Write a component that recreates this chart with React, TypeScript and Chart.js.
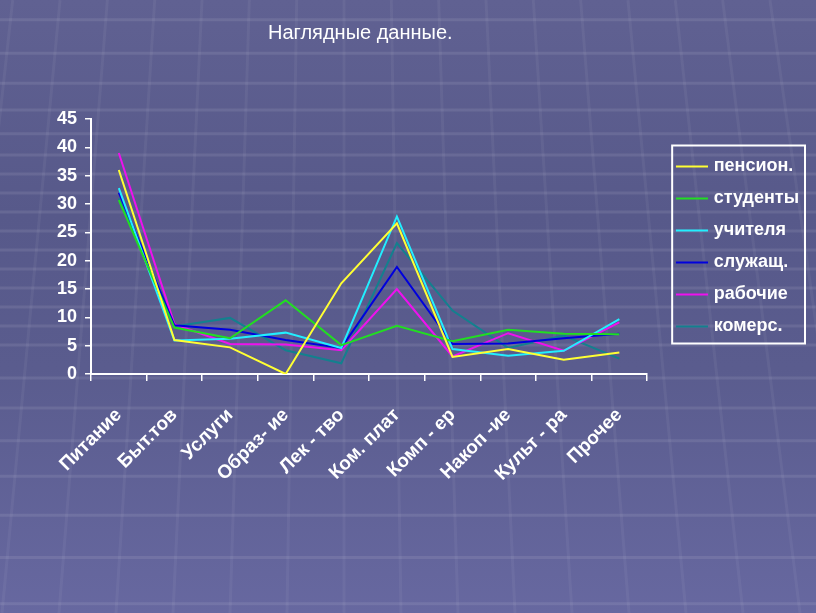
import React, { useEffect, useRef } from 'react';
import { Chart, registerables } from 'chart.js';

Chart.register(...registerables);

const categories = ['Питание', 'Быт.тов', 'Услуги', 'Образ- ие', 'Лек - тво', 'Ком. плат', 'Комп - ер', 'Накоп -ие', 'Культ - ра', 'Прочее'];

const pension = [36, 6, 4.7, 0, 16, 26.6, 3, 4.4, 2.5, 3.8];
const students = [30.7, 8.2, 6.3, 13, 5.1, 8.5, 5.8, 7.8, 7.1, 7];
const teachers = [32.8, 5.9, 6.2, 7.3, 4.6, 27.8, 4.4, 3.2, 4.1, 9.7];
const servants = [32, 8.6, 7.8, 6, 4.6, 18.9, 5.3, 5.4, 6.3, 7.1];
const workers = [39, 8.8, 5.3, 5.2, 4.2, 15, 3.1, 7.2, 4.1, 9.1];
const commerce = [31, 8.4, 9.9, 4.2, 1.9, 23.1, 11.2, 4.6, 6.8, 2.7];

const seriesNames = ['пенсион.', 'студенты', 'учителя', 'служащ.', 'рабочие', 'комерс.'];
const seriesValues = [pension, students, teachers, servants, workers, commerce];
const seriesColors = ['#ffff33', '#22dd22', '#22eeff', '#0000dd', '#ee11ee', '#13808e'];

const yMin = 0;
const yMax = 45;
const yStep = 5;

const FONT = '"Liberation Sans", Arial, sans-serif';

function makeLegendLine(color: string) {
  const c = document.createElement('canvas');
  c.width = 50;
  c.height = 4;
  const ctx = c.getContext('2d')!;
  ctx.strokeStyle = color;
  ctx.lineWidth = 2;
  ctx.beginPath();
  ctx.moveTo(18, 2);
  ctx.lineTo(50, 2);
  ctx.stroke();
  return c;
}

const backgroundPlugin = {
  id: 'slideBackground',
  beforeDraw(chart: any) {
    const { ctx, width, height } = chart;
    ctx.save();
    const ys: number[] = [];
    let y = 345;
    while (y > 160) { ys.push(y); y -= 19; }
    let s = 19;
    while (y > 0) { ys.push(y); s *= 1.12; y -= s; }
    y = 378; s = 30;
    while (y < height) { ys.push(y); y += s; s *= 1.09; }
    ctx.strokeStyle = 'rgba(255,255,255,0.09)';
    ctx.lineWidth = 3;
    ys.forEach((yy) => {
      ctx.beginPath();
      ctx.moveTo(0, yy);
      ctx.lineTo(width, yy);
      ctx.stroke();
    });
    ctx.strokeStyle = 'rgba(255,255,255,0.05)';
    ctx.lineWidth = 3;
    const vx = 344, vy = -3000;
    for (let k = -8; k <= 10; k++) {
      const xb = vx + k * 57;
      const xt = vx + k * 57 * (0 - vy) / (height - vy);
      ctx.beginPath();
      ctx.moveTo(xt, 0);
      ctx.lineTo(xb, height);
      ctx.stroke();
    }
    ctx.restore();
  },
};

const legendBorderPlugin = {
  id: 'legendBorder',
  afterDraw(chart: any) {
    const lg = chart.legend;
    if (!lg || !lg.legendHitBoxes || !lg.legendHitBoxes.length) return;
    const hb = lg.legendHitBoxes;
    const left = hb[0].left + 11;
    const top = hb[0].top - 12;
    const right = Math.max(...hb.map((h: any) => h.left + h.width)) + 6;
    const last = hb[hb.length - 1];
    const bottom = last.top + last.height + 8;
    const ctx = chart.ctx;
    ctx.save();
    ctx.strokeStyle = '#ffffff';
    ctx.lineWidth = 2;
    ctx.strokeRect(left, top, right - left, bottom - top);
    ctx.restore();
  },
};

export default function App() {
  const canvasRef = useRef<HTMLCanvasElement | null>(null);

  useEffect(() => {
    if (!canvasRef.current) return;
    const legendImgs = seriesColors.map(makeLegendLine);
    const chart = new Chart(canvasRef.current, {
      type: 'line',
      data: {
        labels: categories,
        datasets: seriesNames.map((name, i) => ({
          label: name,
          data: seriesValues[i],
          borderColor: seriesColors[i],
          backgroundColor: seriesColors[i],
          borderWidth: 2,
          pointRadius: 0,
          tension: 0,
          fill: false,
        })),
      },
      options: {
        animation: false,
        responsive: true,
        maintainAspectRatio: false,
        layout: { padding: { left: 0, top: 119, right: 7, bottom: 119 } },
        plugins: {
          title: { display: false },
          tooltip: { enabled: false },
          legend: {
            position: 'right',
            fullSize: false,
            align: 'center',
            labels: {
              color: '#ffffff',
              font: { family: FONT, size: 18, weight: 'bold' },
              usePointStyle: true,
              pointStyleWidth: 43.5,
              boxHeight: 18,
              padding: 14,
              generateLabels: (ch: any) => {
                const items = Chart.defaults.plugins.legend.labels.generateLabels(ch);
                return items.map((it: any, i: number) => ({ ...it, pointStyle: legendImgs[i], fillStyle: 'transparent', strokeStyle: 'transparent' }));
              },
            },
          },
        },
        scales: {
          x: {
            type: 'category',
            offset: true,
            afterFit: (scale: any) => { scale.height = 120; },
            grid: {
              offset: true,
              drawOnChartArea: false,
              drawTicks: true,
              tickLength: 7,
              color: '#ffffff',
              lineWidth: 1.5,
            },
            border: { color: '#ffffff', width: 2 },
            ticks: {
              color: '#ffffff',
              font: { family: FONT, size: 19, weight: 'bold' },
              maxRotation: 45,
              minRotation: 45,
              autoSkip: false,
              padding: 23,
            },
          },
          y: {
            min: yMin,
            max: yMax,
            afterFit: (scale: any) => { scale.width = 91; },
            grid: {
              drawOnChartArea: false,
              drawTicks: true,
              tickLength: 6,
              color: '#ffffff',
              lineWidth: 1.5,
            },
            border: { color: '#ffffff', width: 2 },
            ticks: {
              stepSize: yStep,
              color: '#ffffff',
              font: { family: FONT, size: 18, weight: 'bold' },
              padding: 8,
            },
          },
        },
      },
      plugins: [backgroundPlugin, legendBorderPlugin],
    });
    return () => chart.destroy();
  }, []);

  return (
    <div
      style={{
        position: 'fixed',
        left: 0,
        top: 0,
        width: 816,
        height: 613,
        background: 'linear-gradient(180deg, #606192 0%, #57598a 35%, #5a5c8e 60%, #6768a0 100%)',
        overflow: 'hidden',
      }}
    >
      <canvas ref={canvasRef} style={{ position: 'absolute', left: 0, top: 0 }} />
      <div
        style={{
          position: 'absolute',
          left: 268,
          top: 21,
          color: '#ffffff',
          fontFamily: FONT,
          fontSize: 20,
          whiteSpace: 'nowrap',
        }}
      >
        Наглядные данные.
      </div>
    </div>
  );
}
